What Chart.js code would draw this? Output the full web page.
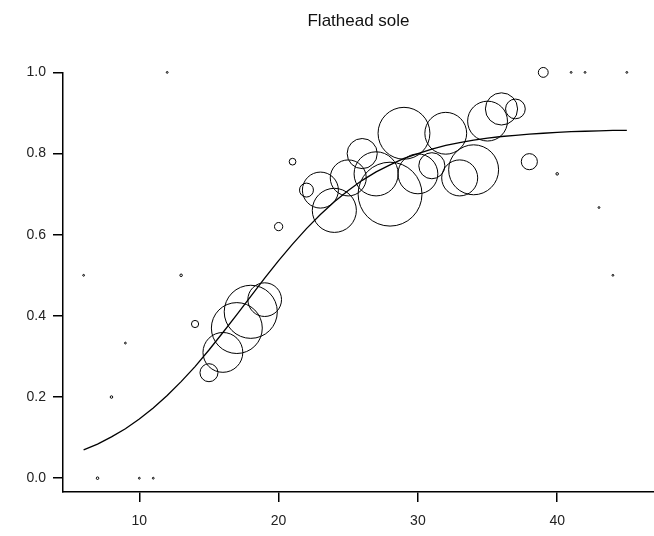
<!DOCTYPE html>
<html>
<head>
<meta charset="utf-8">
<title>Flathead sole</title>
<script src="https://cdn.jsdelivr.net/npm/chart.js@4.4.1/dist/chart.umd.min.js"></script>
<style>
  html, body { margin: 0; padding: 0; background: #fff; }
  #wrap { width: 654px; height: 536px; }
</style>
</head>
<body>
<div id="wrap"><canvas id="myChart" width="654" height="536"></canvas></div>
<script>
/* globals Chart:false */

// Observations: age, proportion, number of fish
const ages = [6, 7, 8, 9, 10, 11, 12, 13, 14, 15, 16, 17, 18, 19, 20, 21, 22, 23, 24, 25,
  26, 27, 28, 29, 30, 31, 32, 33, 34, 35, 36, 37, 38, 39, 40, 41, 42, 43, 44, 45]
const proportions = [0.5, 0, 0.2, 0.333, 0, 0, 1, 0.5, 0.38, 0.26, 0.31, 0.37, 0.41, 0.44, 0.62, 0.78, 0.71, 0.71, 0.66, 0.74,
  0.80, 0.75, 0.70, 0.85, 0.75, 0.77, 0.85, 0.74, 0.76, 0.88, 0.91, 0.91, 0.78, 1, 0.75, 1, 1, 0.667, 0.5, 1]
const counts = [1, 2, 2, 1, 1, 1, 1, 2, 16, 100, 490, 800, 870, 350, 21, 14, 60, 400, 600, 400,
  280, 600, 1260, 830, 490, 210, 540, 400, 770, 490, 320, 120, 80, 30, 2, 1, 1, 1, 1, 1]

// Fitted curve
const curveAges = [6, 7, 8, 9, 10, 11, 12, 13, 14, 15, 16, 17, 18, 19, 20, 21, 22, 23, 24, 25,
  26, 27, 28, 29, 30, 31, 32, 33, 34, 35, 36, 37, 38, 39, 40, 41, 42, 43, 44, 45]
const curveValues = [0.070, 0.084, 0.102, 0.122, 0.146, 0.173, 0.204, 0.238, 0.275, 0.316, 0.359, 0.403, 0.448, 0.493, 0.536, 0.577, 0.615, 0.650, 0.681, 0.709,
  0.734, 0.755, 0.772, 0.788, 0.800, 0.811, 0.820, 0.827, 0.833, 0.838, 0.842, 0.845, 0.848, 0.850, 0.852, 0.854, 0.855, 0.856, 0.857, 0.857]

const xTicks = [10, 20, 30, 40]
const yTicks = [0, 0.2, 0.4, 0.6, 0.8, 1]

;(() => {
  'use strict'

  const font = { family: '"Liberation Sans", Arial, Helvetica, sans-serif', size: 14 }

  const ctx = document.getElementById('myChart')

  // eslint-disable-next-line no-unused-vars
  const myChart = new Chart(ctx, {
    type: 'bubble',
    data: {
      datasets: [{
        type: 'line',
        data: curveAges.map((a, i) => ({ x: a, y: curveValues[i] })),
        borderColor: '#000',
        borderWidth: 1.3,
        pointRadius: 0,
        tension: 0,
        clip: false
      }, {
        data: ages.map((a, i) => ({ x: a, y: proportions[i], r: 0.9 * Math.sqrt(counts[i]) })),
        backgroundColor: 'transparent',
        borderColor: '#000',
        borderWidth: 1,
        clip: false
      }]
    },
    options: {
      responsive: false,
      animation: false,
      events: [],
      layout: { padding: 0, autoPadding: false },
      scales: {
        x: {
          type: 'linear',
          min: 4.52,
          max: 46.95,
          afterBuildTicks: (axis) => { axis.ticks = xTicks.map(v => ({ value: v })) },
          afterFit: (axis) => { axis.height = 44 },
          border: { display: true, color: '#000', width: 1.5 },
          grid: { drawOnChartArea: false, color: '#000', lineWidth: 1.5, tickLength: 10 },
          ticks: { color: '#222', font, padding: 11, maxRotation: 0 }
        },
        y: {
          min: -0.034,
          max: 1,
          afterBuildTicks: (axis) => { axis.ticks = yTicks.map(v => ({ value: v })) },
          afterFit: (axis) => { axis.width = 63 },
          border: { display: true, color: '#000', width: 1.5 },
          grid: { drawOnChartArea: false, color: '#000', lineWidth: 1.5, tickLength: 10 },
          ticks: { color: '#222', font, padding: 7, callback: (v) => v.toFixed(1) }
        }
      },
      plugins: {
        legend: { display: false },
        tooltip: { enabled: false },
        title: {
          display: true,
          fullSize: false,
          text: 'Flathead sole',
          color: '#111',
          font: { family: font.family, size: 17, weight: 'normal' },
          padding: { top: 11, bottom: 41 }
        }
      }
    }
  })
})()
</script>
</body>
</html>
